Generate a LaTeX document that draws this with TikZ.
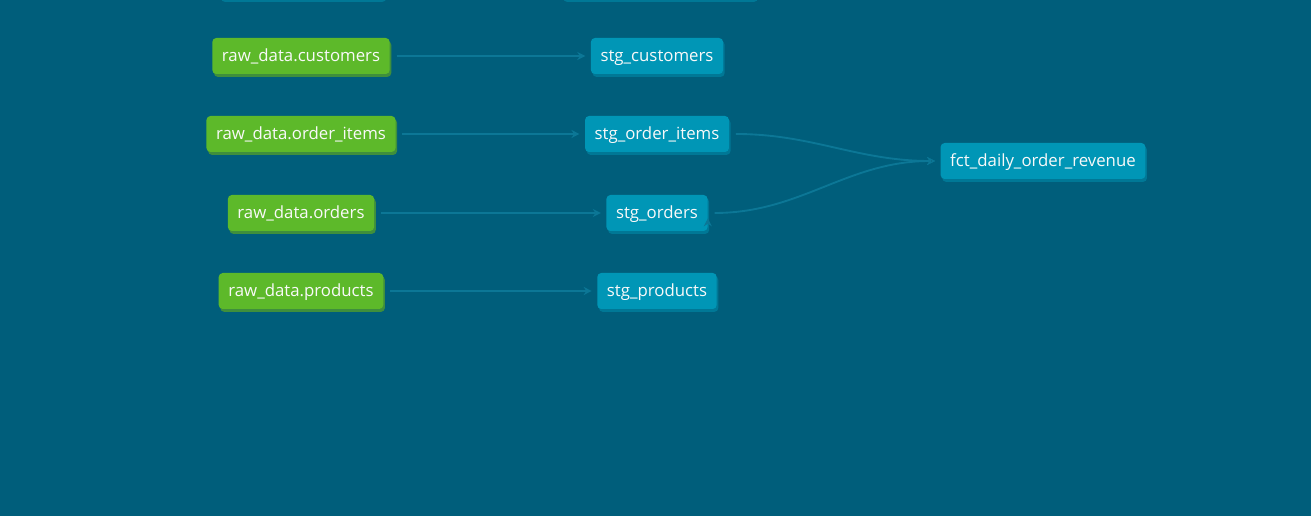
\documentclass[tikz,border=0pt]{standalone}
\usepackage{fontspec}
\setmainfont{Open Sans}
\usetikzlibrary{positioning, shadows, arrows.meta}
\definecolor{canvas}{HTML}{005E7B}
\definecolor{rawgreen}{HTML}{5DB92A}
\definecolor{rawshadow}{HTML}{3F8F3C}
\definecolor{stgblue}{HTML}{0096B6}
\definecolor{stgshadow}{HTML}{007896}
\definecolor{wire}{HTML}{0C7796}

\begin{document}
\begin{tikzpicture}[x=0.75pt, y=-0.75pt, >={Stealth[length=6pt, width=6pt]},
  every node/.style={font=\fontsize{12.6}{14}\selectfont, text=white!95!gray},
  model/.style={rectangle, rounded corners=3pt, minimum height=27pt, inner xsep=7.2pt, inner ysep=0pt,
    text height=10pt, text depth=1.6pt},
  rawnode/.style={model, fill=rawgreen, drop shadow={shadow xshift=1.2pt, shadow yshift=-2.2pt, fill=rawshadow, opacity=1}},
  stgnode/.style={model, fill=stgblue, drop shadow={shadow xshift=1.2pt, shadow yshift=-2.2pt, fill=stgshadow, opacity=1}},
  flow/.style={->, draw=wire, line width=1.4pt, shorten >=4pt, shorten <=5pt}]

  \fill[canvas] (0,0) rectangle (1311,516);
  \useasboundingbox (0,0) rectangle (1311,516);

  % nodes above the visible area
  \node[stgnode, minimum width=124pt] (rawabove) at (302,-19) {};
  \node[stgnode, minimum width=146pt] (stgabove) at (659,-19) {};

  % raw sources
  \node[rawnode] (rawcust)  at (301,56)  {raw\_data.customers};
  \node[rawnode] (rawitems) at (301,134) {raw\_data.order\_items};
  \node[rawnode] (raword)   at (301,213) {raw\_data.orders};
  \node[rawnode] (rawprod)  at (301,291) {raw\_data.products};

  % staging models
  \node[stgnode] (stgcust)  at (657,56)  {stg\_customers};
  \node[stgnode] (stgitems) at (657,134) {stg\_order\_items};
  \node[stgnode] (stgord)   at (657,213) {stg\_orders};
  \node[stgnode] (stgprod)  at (657,291) {stg\_products};

  % fact
  \node[stgnode] (fct) at (1043,161) {fct\_daily\_order\_revenue};

  \path[flow]
    (rawcust) edge (stgcust)
    (rawitems) edge (stgitems)
    (raword) edge (stgord)
    (rawprod) edge (stgprod)
    (stgitems.east) edge[out=0, in=180] (fct.west)
    (stgord.east) edge[out=0, in=180] (fct.west);
\end{tikzpicture}
\end{document}
